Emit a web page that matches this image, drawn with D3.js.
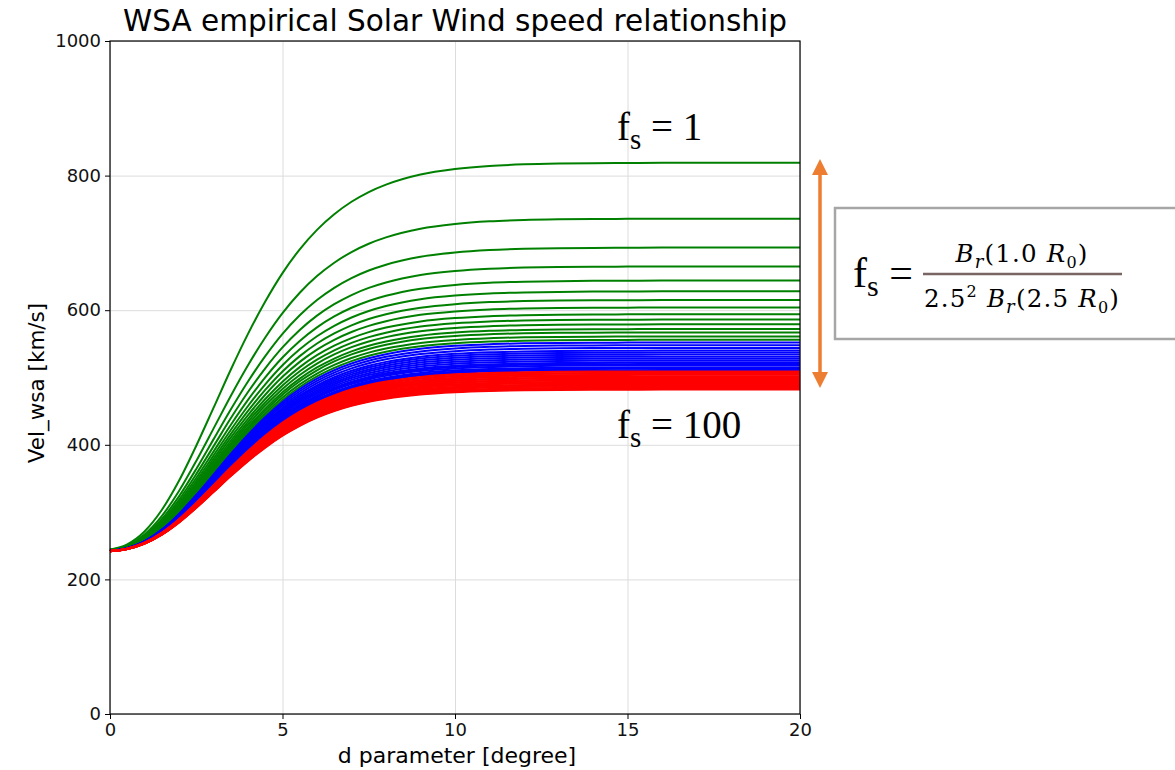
<!DOCTYPE html>
<html>
<head>
<meta charset="utf-8">
<script src="https://cdn.jsdelivr.net/npm/d3@7"></script>
<style>
  body { margin: 0; background: #fff; }
  svg { display: block; }
</style>
</head>
<body>
<svg id="chart" width="1175" height="770"></svg>
<script>
// d parameter samples (degree) and the rise of the curves
var dParam = [0, 0.5, 1, 1.5, 2, 2.5, 3, 3.5, 4, 4.5, 5, 5.5, 6, 6.5, 7, 7.5, 8, 9, 10, 11, 12, 13, 14, 15, 16, 17, 18, 19, 20]
var riseShape = [0.008, 0.021, 0.054, 0.109, 0.184, 0.274, 0.371, 0.469, 0.561, 0.644, 0.717, 0.778, 0.828, 0.868, 0.900, 0.925, 0.944, 0.970, 0.984, 0.992, 0.996, 0.998, 0.999, 0.9995, 1, 1, 1, 1, 1]
var baseSpeed = 240

// plateau speed (km/s) of each curve, read at d = 20
var greenPlateau = [819, 736, 693, 665, 644, 628, 615, 604, 594, 586, 579, 572, 567, 561, 556]
var bluePlateau = [552, 548, 544, 540, 537, 534, 531, 528, 525, 522, 520, 518, 515, 513, 511]
var redPlateau = [509, 507, 506, 504, 502, 500, 499, 497, 496, 494, 493, 492, 490, 489, 488, 487, 485, 484, 483, 482]

var xTicks = [0, 5, 10, 15, 20]
var yTicks = [0, 200, 400, 600, 800, 1000]

var svg = d3.select("#chart")
var plotL = 110, plotR = 800, plotT = 41, plotB = 714

var x = d3.scaleLinear().domain([0, 20]).range([plotL, plotR])
var y = d3.scaleLinear().domain([0, 1000]).range([plotB, plotT])

// grid
svg.append("g")
    .attr("transform", "translate(0," + plotB + ")")
    .call(d3.axisBottom(x).tickValues(xTicks).tickSize(-(plotB - plotT)).tickFormat(""))
    .call(g => g.select(".domain").remove())
    .selectAll("line").attr("stroke", "#dcdcdc").attr("stroke-width", 1)

svg.append("g")
    .attr("transform", "translate(" + plotL + ",0)")
    .call(d3.axisLeft(y).tickValues(yTicks).tickSize(-(plotR - plotL)).tickFormat(""))
    .call(g => g.select(".domain").remove())
    .selectAll("line").attr("stroke", "#dcdcdc").attr("stroke-width", 1)

// curves
var line = d3.line()
    .x(function (d) { return x(d[0]) })
    .y(function (d) { return y(d[1]) })
    .curve(d3.curveMonotoneX)

function drawSet(plateaus, color) {
    plateaus.forEach(function (p) {
        var pts = dParam.map(function (d, i) { return [d, baseSpeed + (p - baseSpeed) * riseShape[i]] })
        svg.append("path")
            .attr("d", line(pts))
            .attr("fill", "none")
            .attr("stroke", color)
            .attr("stroke-width", 2)
    })
}
drawSet(greenPlateau, "#008000")
drawSet(bluePlateau, "#0000ff")
drawSet(redPlateau, "#ff0000")

// axes
var xAxis = svg.append("g")
    .attr("transform", "translate(0," + plotB + ")")
    .call(d3.axisBottom(x).tickValues(xTicks).tickSize(5).tickPadding(4).tickFormat(d3.format("d")))
var yAxis = svg.append("g")
    .attr("transform", "translate(" + plotL + ",0)")
    .call(d3.axisLeft(y).tickValues(yTicks).tickSize(5).tickPadding(4).tickFormat(d3.format("d")))

;[xAxis, yAxis].forEach(function (a) {
    a.select(".domain").remove()
    a.attr("font-family", "DejaVu Sans").attr("font-size", 18)
    a.selectAll("line").attr("stroke", "#000")
    a.selectAll("text").attr("fill", "#111")
})

// spines
svg.append("rect")
    .attr("x", plotL).attr("y", plotT)
    .attr("width", plotR - plotL).attr("height", plotB - plotT)
    .attr("fill", "none").attr("stroke", "#000").attr("stroke-width", 1.2)

// title and labels
svg.append("text")
    .attr("x", 455).attr("y", 31)
    .attr("text-anchor", "middle")
    .attr("font-family", "DejaVu Sans").attr("font-size", 29.5)
    .text("WSA empirical Solar Wind speed relationship")

svg.append("text")
    .attr("x", 457).attr("y", 763)
    .attr("text-anchor", "middle")
    .attr("font-family", "DejaVu Sans").attr("font-size", 22)
    .text("d parameter [degree]")

svg.append("text")
    .attr("transform", "translate(44,383) rotate(-90)")
    .attr("text-anchor", "middle")
    .attr("font-family", "DejaVu Sans").attr("font-size", 21.5)
    .text("Vel_wsa [km/s]")

// f_s annotations
function fsLabel(px, py, val) {
    var t = svg.append("text")
        .attr("x", px).attr("y", py)
        .attr("font-family", "Liberation Serif").attr("font-size", 39)
        .attr("fill", "#000")
    t.append("tspan").text("f")
    t.append("tspan").attr("dy", 9).attr("font-size", 29).text("s")
    t.append("tspan").attr("dy", -9).text(" = " + val)
}
fsLabel(617, 140, "1")
fsLabel(617, 438, "100")

// orange double arrow
var orange = "#ed7d31"
svg.append("line")
    .attr("x1", 820).attr("y1", 170).attr("x2", 820).attr("y2", 378)
    .attr("stroke", orange).attr("stroke-width", 3.5)
svg.append("path")
    .attr("d", "M820,159 L828,175 L812,175 Z")
    .attr("fill", orange)
svg.append("path")
    .attr("d", "M820,388 L828,372 L812,372 Z")
    .attr("fill", orange)

// formula box
svg.append("rect")
    .attr("x", 835).attr("y", 208)
    .attr("width", 400).attr("height", 131)
    .attr("fill", "#fff").attr("stroke", "#a6a6a6").attr("stroke-width", 2.5)

var fs = svg.append("text")
    .attr("x", 853).attr("y", 287)
    .attr("font-family", "Liberation Serif").attr("font-size", 42)
fs.append("tspan").text("f")
fs.append("tspan").attr("dy", 9).attr("font-size", 30).text("s")
fs.append("tspan").attr("dy", -9).text(" =")

svg.append("line")
    .attr("x1", 923).attr("y1", 274).attr("x2", 1122).attr("y2", 274)
    .attr("stroke", "#7a6565").attr("stroke-width", 2.5)

var num = svg.append("text")
    .attr("x", 1022).attr("y", 262)
    .attr("text-anchor", "middle")
    .attr("font-family", "DejaVu Serif").attr("font-size", 24.5)
    .attr("letter-spacing", 1.2)
num.append("tspan").attr("font-style", "italic").text("B")
num.append("tspan").attr("font-style", "italic").attr("dy", 6).attr("font-size", 18).text("r")
num.append("tspan").attr("dy", -6).text("(1.0 ")
num.append("tspan").attr("font-style", "italic").text("R")
num.append("tspan").attr("dy", 6).attr("font-size", 16).text("0")
num.append("tspan").attr("dy", -6).text(")")

var den = svg.append("text")
    .attr("x", 1022).attr("y", 307)
    .attr("text-anchor", "middle")
    .attr("font-family", "DejaVu Serif").attr("font-size", 24.5)
    .attr("letter-spacing", 1.2)
den.append("tspan").text("2.5")
den.append("tspan").attr("dy", -10).attr("font-size", 16).text("2")
den.append("tspan").attr("dy", 10).attr("font-style", "italic").text(" B")
den.append("tspan").attr("font-style", "italic").attr("dy", 6).attr("font-size", 18).text("r")
den.append("tspan").attr("dy", -6).text("(2.5 ")
den.append("tspan").attr("font-style", "italic").text("R")
den.append("tspan").attr("dy", 6).attr("font-size", 16).text("0")
den.append("tspan").attr("dy", -6).text(")")
</script>
</body>
</html>
